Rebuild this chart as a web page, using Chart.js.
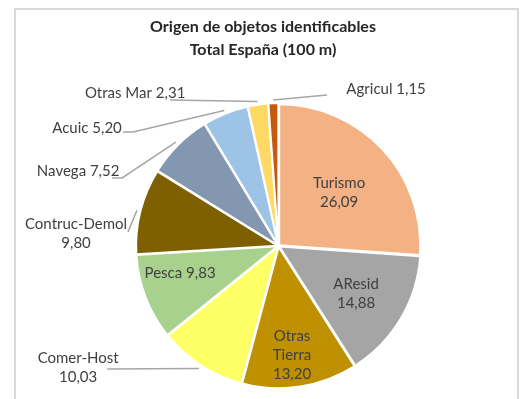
<!DOCTYPE html>
<html>
<head>
<meta charset="utf-8">
<style>
  html, body { margin: 0; padding: 0; background: #ffffff; }
  #wrap { width: 522px; height: 399px; position: relative; }
</style>
<script src="https://cdn.jsdelivr.net/npm/chart.js@4.4.1/dist/chart.umd.min.js"></script>
</head>
<body>
<div id="wrap"><canvas id="pie" width="522" height="399"></canvas></div>
<script>
// Origen de objetos identificables, total España (100 m), % por categoría
const categories = ['Turismo', 'AResid', 'Otras Tierra', 'Comer-Host', 'Pesca',
                    'Contruc-Demol', 'Navega', 'Acuic', 'Otras Mar', 'Agricul'];
const shares = [26.09, 14.88, 13.20, 10.03, 9.83, 9.80, 7.52, 5.20, 2.31, 1.15];
const titleLines = ['Origen de objetos identificables', 'Total España (100 m)'];

const sliceColors = ['#F4B183', '#A5A5A5', '#BF9000', '#FFFF66', '#A9D18E',
                     '#7F6000', '#8497B0', '#9DC3E6', '#FFD966', '#C55A11'];

// label layout: text centre relative to pie centre in radius units,
// line breaks, and (for outside labels) where the leader line leaves the text
const labelLayout = [
  { fx: 0.430, fy: -0.376, lines: 2 },
  { fx: 0.550, fy: 0.340, lines: 2 },
  { fx: 0.096, fy: 0.773, lines: 3 },
  { fx: -1.421, fy: 0.865, lines: 2, lead: [29, 1] },
  { fx: -0.698, fy: 0.191, lines: 1 },
  { fx: -1.436, fy: -0.085, lines: 2, lead: [52, -2] },
  { fx: -1.421, fy: -0.532, lines: 1, lead: [34, 7], elbow: 10 },
  { fx: -1.358, fy: -0.837, lines: 1, lead: [36, 4], elbow: 10 },
  { fx: -1.017, fy: -1.085, lines: 1, lead: [35, 7] },
  { fx: 0.763, fy: -1.113, lines: 1, lead: [-59, 6] }
];

const fmt = v => v.toFixed(2).replace('.', ',');

function labelText(i) {
  const name = categories[i], val = fmt(shares[i]);
  const n = labelLayout[i].lines;
  if (n === 3) { const p = name.split(' '); return [p[0], p[1], val]; }
  if (n === 2) return [name, val];
  return [name + ' ' + val];
}

const framePlugin = {
  id: 'frame',
  beforeDraw(chart) {
    const ctx = chart.ctx;
    ctx.save();
    ctx.fillStyle = '#ffffff';
    ctx.fillRect(0, 0, chart.width, chart.height);
    ctx.strokeStyle = '#D9D9D9';
    ctx.lineWidth = 2;
    ctx.strokeRect(15, 9, 503, 400);
    ctx.restore();
  }
};

const titlePlugin = {
  id: 'twoLineTitle',
  afterDraw(chart) {
    const ctx = chart.ctx;
    ctx.save();
    ctx.fillStyle = '#262626';
    ctx.font = 'bold 16px Lato, "Liberation Sans", sans-serif';
    ctx.textAlign = 'center';
    ctx.textBaseline = 'middle';
    ctx.fillText(titleLines[0], 263, 27);
    ctx.fillText(titleLines[1], 263, 50);
    ctx.restore();
  }
};

const labelPlugin = {
  id: 'sliceLabels',
  afterDatasetsDraw(chart) {
    const ctx = chart.ctx;
    const meta = chart.getDatasetMeta(0);
    const off = chart.data.datasets[0].offset;
    ctx.save();
    ctx.font = '15px Lato, "Liberation Sans", sans-serif';
    ctx.textBaseline = 'middle';
    ctx.textAlign = 'center';
    const lh = 19;
    meta.data.forEach((arc, i) => {
      const L = labelLayout[i];
      const R = arc.outerRadius;
      const cx = chart.chartArea.left + (chart.chartArea.right - chart.chartArea.left) / 2;
      const cy = chart.chartArea.top + (chart.chartArea.bottom - chart.chartArea.top) / 2;
      const tx = cx + L.fx * R, ty = cy + L.fy * R;
      const lines = labelText(i);
      if (L.lead) {
        const mid = (arc.startAngle + arc.endAngle) / 2;
        const rr = R + off + 1;
        const ex = cx + Math.cos(mid) * rr, ey = cy + Math.sin(mid) * rr;
        const sx = tx + L.lead[0], sy = ty + L.lead[1];
        ctx.strokeStyle = '#A6A6A6';
        ctx.lineWidth = 1.5;
        ctx.beginPath();
        ctx.moveTo(sx, sy);
        if (L.elbow) ctx.lineTo(sx + L.elbow, sy);
        ctx.lineTo(ex, ey);
        ctx.stroke();
      }
      ctx.fillStyle = '#404040';
      const top = ty - (lines.length - 1) * lh / 2;
      lines.forEach((t, k) => ctx.fillText(t, tx, top + k * lh));
    });
    ctx.restore();
  }
};

new Chart(document.getElementById('pie'), {
  type: 'pie',
  data: {
    labels: categories,
    datasets: [{
      data: shares,
      backgroundColor: sliceColors,
      borderColor: '#ffffff',
      borderWidth: 2,
      offset: 4
    }]
  },
  options: {
    responsive: false,
    animation: false,
    layout: { padding: { left: 133, right: 98, top: 102, bottom: 9 } },
    plugins: {
      legend: { display: false },
      title: { display: false },
      tooltip: { enabled: false }
    }
  },
  plugins: [framePlugin, titlePlugin, labelPlugin]
});
</script>
</body>
</html>
